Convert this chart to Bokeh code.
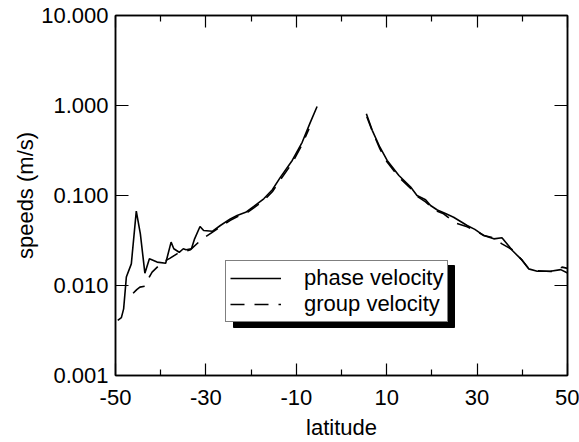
from bokeh.plotting import figure
from bokeh.models import (LinearAxis, LogAxis, FixedTicker, CustomJSTickFormatter,
                          Legend, LegendItem, Range1d, BoxAnnotation)
from bokeh.embed import file_html
from bokeh.resources import INLINE

# ---- data ----
phase_lat_s = [-49.5, -48.7, -48.2, -47.6, -46.5, -45.4, -44.5, -43.5, -42.5, -40.8,
               -38.9, -37.7, -37.1, -35.9, -35.0, -34.4, -33.2, -32.5, -31.3, -30.5,
               -28.6, -26.8, -24.6, -23.1, -21.2, -19.4, -17.2, -15.3, -13.5, -10.9,
               -8.7, -6.9, -5.4]
phase_val_s = [0.0041, 0.0044, 0.0055, 0.0124, 0.0174, 0.067, 0.0375, 0.0137, 0.0198, 0.0182,
               0.0177, 0.0303, 0.0256, 0.0234, 0.0256, 0.025, 0.0256, 0.033, 0.0453, 0.0408,
               0.040, 0.0464, 0.055, 0.060, 0.065, 0.0755, 0.092, 0.116, 0.16, 0.245,
               0.39, 0.65, 0.975]

phase_lat_n = [5.5, 6.8, 8.5, 10.1, 12.7, 15.3, 16.7, 18.6, 19.7, 21.2, 23.0, 24.8, 27.8,
               29.5, 31.5, 33.7, 35.5, 37.8, 40.0, 41.4, 43.3, 46.2, 48.5, 50.0]
phase_val_n = [0.81, 0.53, 0.344, 0.245, 0.167, 0.124, 0.10, 0.0896, 0.0774, 0.069, 0.063,
               0.0574, 0.0464, 0.042, 0.0359, 0.033, 0.034, 0.0245, 0.019, 0.0153, 0.0144,
               0.0144, 0.0150, 0.0138]

group_lat_s = [-46.1, -45.3, -44.6, -43.5, -42.5, -41.9, -39.7, -38.0, -36.4, -33.4, -30.8,
               -28.6, -26.8, -24.6, -23.1, -21.2, -19.4, -17.2, -15.3, -13.5, -10.9, -8.7, -7.2]
group_val_s = [0.0082, 0.009, 0.0096, 0.0098, 0.0125, 0.0141, 0.018, 0.020, 0.0225, 0.025, 0.033,
               0.039, 0.045, 0.053, 0.058, 0.063, 0.073, 0.088, 0.11, 0.15, 0.23, 0.37, 0.55]

group_lat_n = [5.6, 6.8, 8.5, 10.1, 12.7, 15.3, 16.7, 18.6, 19.7, 21.2, 22.6, 24.0, 25.4,
               27.8, 29.5, 31.5, 33.5, 35.5, 37.8, 40.0, 41.4, 43.3, 46.2, 47.5, 48.8, 50.0]
group_val_n = [0.75, 0.52, 0.33, 0.235, 0.16, 0.12, 0.098, 0.085, 0.076, 0.067, 0.0626, 0.055,
               0.049, 0.045, 0.041, 0.036, 0.034, 0.029, 0.025, 0.019, 0.0155, 0.0146, 0.0143,
               0.0145, 0.016, 0.0155]

x_major = [-50, -30, -10, 10, 30, 50]
x_minor = [-40, -20, 0, 20, 40]
y_major = [0.001, 0.01, 0.1, 1, 10]

FONT = "Liberation Sans"
FS = "22px"

p = figure(width=579, height=442, x_range=Range1d(-50, 50), y_range=Range1d(0.001, 10),
           y_axis_type="log", output_backend="svg", toolbar_location=None,
           min_border_left=115, min_border_right=12, min_border_top=15, min_border_bottom=66)
p.grid.visible = False
p.outline_line_color = "black"
p.outline_line_width = 1.5
p.background_fill_color = "white"
p.border_fill_color = "white"

def style(ax, labels=True):
    ax.axis_line_color = "black"
    ax.axis_line_width = 1.5
    ax.major_tick_line_color = "black"
    ax.major_tick_line_width = 1.2
    ax.minor_tick_line_color = "black"
    ax.minor_tick_line_width = 1.2
    ax.major_tick_out = 0
    ax.minor_tick_out = 0
    if labels:
        ax.major_label_text_font = FONT
        ax.major_label_text_font_size = FS
        ax.major_label_text_color = "black"
        ax.axis_label_text_font = FONT
        ax.axis_label_text_font_size = FS
        ax.axis_label_text_font_style = "normal"
        ax.axis_label_text_color = "black"
    else:
        ax.major_label_text_font_size = "1px"
        ax.major_label_text_alpha = 0
        ax.major_label_standoff = 0

# bottom
xa = p.xaxis[0]
xa.ticker = FixedTicker(ticks=x_major, minor_ticks=x_minor)
style(xa)
xa.major_tick_in = 12
xa.minor_tick_in = 6
xa.major_label_standoff = 14
xa.formatter = CustomJSTickFormatter(code="return tick.toFixed(0);")
xa.axis_label = "latitude"
xa.axis_label_standoff = 7

# left
ya = p.yaxis[0]
ya.ticker = FixedTicker(ticks=y_major)
style(ya)
ya.major_tick_in = 13
ya.minor_tick_line_color = None
ya.major_label_standoff = 7
ya.formatter = CustomJSTickFormatter(code="return tick.toFixed(3);")
ya.axis_label = "speeds (m/s)"
ya.axis_label_standoff = 0

# top
xtop = LinearAxis(ticker=FixedTicker(ticks=x_major, minor_ticks=x_minor))
style(xtop, labels=False)
xtop.major_tick_in = 12
xtop.minor_tick_in = 6
p.add_layout(xtop, "above")

# right
yr = LogAxis(ticker=FixedTicker(ticks=y_major))
style(yr, labels=False)
yr.major_tick_in = 13
yr.minor_tick_line_color = None
p.add_layout(yr, "right")

# data lines
lw = 1.6
r_ps = p.line(phase_lat_s, phase_val_s, line_color="black", line_width=lw)
r_pn = p.line(phase_lat_n, phase_val_n, line_color="black", line_width=lw)
r_gs = p.line(group_lat_s, group_val_s, line_color="black", line_width=lw, line_dash="14 10")
r_gn = p.line(group_lat_n, group_val_n, line_color="black", line_width=lw, line_dash="14 10")

# legend shadow (screen units, relative to frame bottom-left)
LEG_X, LEG_Y, LEG_W, LEG_H = 110, 53, 221, 62
shadow = BoxAnnotation(left=LEG_X + 8, right=LEG_X + 8 + LEG_W,
                       bottom=LEG_Y - 5, top=LEG_Y - 5 + LEG_H,
                       left_units="screen", right_units="screen",
                       bottom_units="screen", top_units="screen",
                       fill_color="black", fill_alpha=1.0, line_color="black",
                       line_alpha=1.0)
p.add_layout(shadow)

lg = Legend(items=[LegendItem(label="phase velocity", renderers=[r_ps]),
                   LegendItem(label="group velocity", renderers=[r_gs])],
            location=(LEG_X, LEG_Y), orientation="vertical")
lg.label_text_font = FONT
lg.label_text_font_size = FS
lg.glyph_width = 51
lg.glyph_height = 22
lg.label_height = 22
lg.label_standoff = 23
lg.spacing = 0
lg.padding = 4
lg.margin = 0
lg.border_line_color = "black"
lg.border_line_width = 1.5
lg.background_fill_color = "white"
lg.background_fill_alpha = 1.0
lg.label_text_color = "black"
p.add_layout(lg, "center")

open("out.html", "w").write(file_html(p, INLINE))
